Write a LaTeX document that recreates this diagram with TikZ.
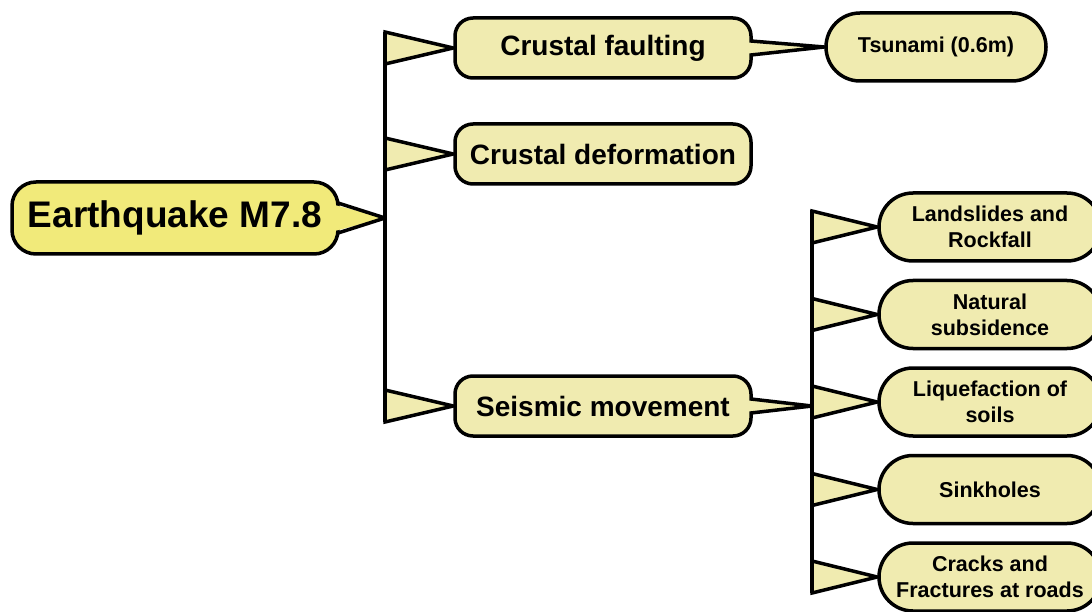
\documentclass[tikz,border=0pt]{standalone}
\usepackage{fontspec}
\setmainfont{Liberation Sans}
\usetikzlibrary{positioning,shapes,calc}
\pgfdeclarelayer{bg}
\pgfsetlayers{bg,main}
\definecolor{quakeyellow}{RGB}{241,234,122}
\definecolor{paleyellow}{RGB}{240,235,176}

\begin{document}
\begin{tikzpicture}[x=1pt,y=-1pt,
	root node/.style={rectangle,rounded corners=24pt,fill=quakeyellow,draw,line width=3.5pt,inner sep=0pt,
		font=\fontsize{37}{44}\selectfont\bfseries, minimum width=326pt, minimum height=72pt},
	main node/.style={rectangle,rounded corners=18pt,fill=paleyellow,draw,line width=3.5pt,inner sep=0pt,
		font=\fontsize{28}{34}\selectfont\bfseries, minimum width=296pt, minimum height=60pt},
	leaf node/.style={rounded rectangle,fill=paleyellow,draw,line width=3.5pt,inner sep=0pt,align=center,
		font=\fontsize{21.5}{26}\selectfont\bfseries, minimum width=222pt, minimum height=68pt},
	bus/.style={draw,line width=3.5pt},
	flagtri/.style={fill=paleyellow,draw,line width=3.5pt,line join=miter},
	pointer/.style={draw,line width=3.5pt,line join=round}]

    \useasboundingbox (0,0) rectangle (1092,612);

    \node[root node] (quake) at (175,218) {Earthquake M7.8};
    \node[main node] (fault) at (603,48) {Crustal faulting};
    \node[main node] (deform) at (603,154) {Crustal deformation};
    \node[main node] (seismic) at (603,406) {Seismic movement};
    \node[leaf node,minimum width=220pt] (tsunami) at (936,47) {Tsunami (0.6m)};

    \node[leaf node] (slide) at (990,227) {Landslides and\\Rockfall};
    \node[leaf node] (subside) [below = 16pt of slide] {Natural\\subsidence};
    \node[leaf node] (liquef) [below = 16pt of subside] {Liquefaction of\\soils};
    \node[leaf node] (sink) [below = 16pt of liquef] {Sinkholes};
    \node[leaf node] (cracks) [below = 16pt of sink] {Cracks and\\Fractures at roads};

    \coordinate (bus1 top) at (385,32);
    \coordinate (bus1 end) at (385,422);
    \coordinate (bus2 top) at (812,210);
    \coordinate (bus2 end) at (812,593);

    \begin{pgfonlayer}{bg}
    \path[bus] (bus1 top) -- (bus1 end);
    \path[bus] (bus2 top) -- (bus2 end);
    \foreach \n in {fault,deform,seismic}
	\path[flagtri] ($(bus1 top |- \n.west)+(0,-16)$) -- (\n.west)
		-- ($(bus1 top |- \n.west)+(0,16)$) -- cycle;
    \foreach \n in {slide,subside,liquef,sink,cracks}
	\path[flagtri] ($(bus2 top |- \n.west)+(0,-16)$) -- (\n.west)
		-- ($(bus2 top |- \n.west)+(0,16)$) -- cycle;
    \end{pgfonlayer}

    % callout pointers
    \fill[quakeyellow] ($(quake.east)+(-5,-13)$) -- (bus1 top |- quake.east) -- ($(quake.east)+(-5,13)$) -- cycle;
    \path[pointer] ($(quake.east)+(-1.75,-15)$) -- (bus1 top |- quake.east) -- ($(quake.east)+(-1.75,15)$);

    \fill[paleyellow] ($(fault.east)+(-5,-5.5)$) -- (tsunami.west) -- ($(fault.east)+(-5,5.5)$) -- cycle;
    \path[pointer] ($(fault.east)+(-1.75,-7)$) -- (tsunami.west) -- ($(fault.east)+(-1.75,7)$);

    \fill[paleyellow] ($(seismic.east)+(-5,-5.5)$) -- (bus2 top |- seismic.east) -- ($(seismic.east)+(-5,5.5)$) -- cycle;
    \path[pointer] ($(seismic.east)+(-1.75,-7)$) -- (bus2 top |- seismic.east) -- ($(seismic.east)+(-1.75,7)$);

\end{tikzpicture}
\end{document}
